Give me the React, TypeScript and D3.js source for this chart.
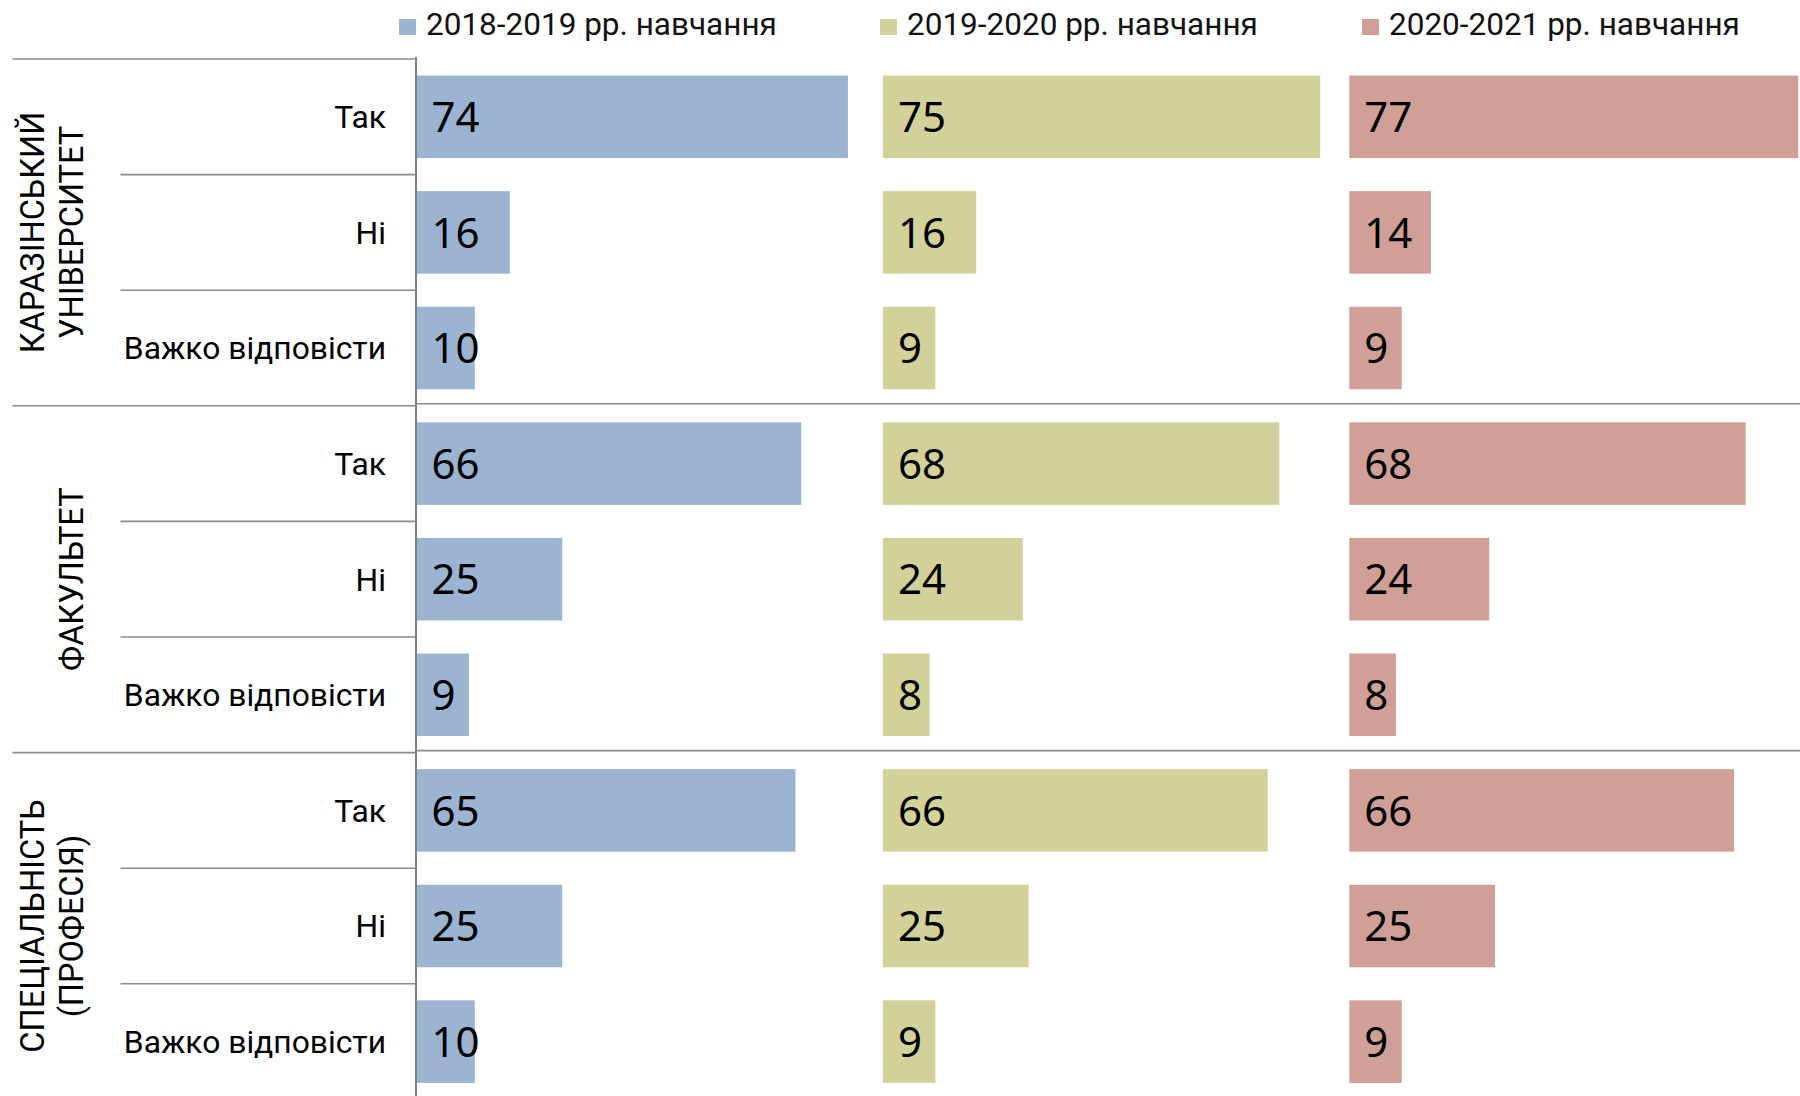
import { useEffect } from "react";
import * as d3 from "d3";

const groups = [["КАРАЗІНСЬКИЙ", "УНІВЕРСИТЕТ"], ["ФАКУЛЬТЕТ"], ["СПЕЦІАЛЬНІСТЬ", "(ПРОФЕСІЯ)"]];
const answers = ["Так", "Ні", "Важко відповісти"];
const years = ["2018-2019 рр. навчання", "2019-2020 рр. навчання", "2020-2021 рр. навчання"];
const values2018 = [74, 16, 10, 66, 25, 9, 65, 25, 10];
const values2019 = [75, 16, 9, 68, 24, 8, 66, 25, 9];
const values2020 = [77, 14, 9, 68, 24, 8, 66, 25, 9];
const series = [values2018, values2019, values2020];
const colors = ["#9ab4d2", "#d2d199", "#d0a098"];
const legendX = [399, 880, 1362];

const W = 1800;
const H = 1096;
const panelSpan = 80;
const axisX = 416;
const top = 59;
const rowH = 115.6;

export default function App() {
  useEffect(() => {
    document.body.style.margin = "0";
  }, []);

  const rows = groups.flatMap((_, g) => answers.map((_, a) => `${g}-${a}`));
  const y = d3.scaleBand<string>().domain(rows).range([top, top + rows.length * rowH]).paddingInner(0.286).paddingOuter(0.143);
  const x = d3.scaleLinear().domain([0, panelSpan * 3]).range([axisX + 0.5, axisX + 0.5 + 240 * 5.83]);
  const step = y.step();
  const rowTop = (i: number) => top + i * step;

  return (
    <svg width={W} height={H} style={{ display: "block" }}>
      {/* legend */}
      {years.map((name, i) => (
        <g key={name} transform={`translate(${legendX[i]},0)`}>
          <rect x={0} y={19} width={17} height={16} fill={colors[i]} />
          <text x={27} y={35} fontFamily="Roboto" fontSize={31.5} fill="#111">
            {name}
          </text>
        </g>
      ))}

      {/* bars */}
      {series.map((vals, s) =>
        vals.map((v, i) => (
          <g key={`${s}-${i}`}>
            <rect
              x={x(s * panelSpan)}
              y={y(rows[i])}
              width={x(s * panelSpan + v) - x(s * panelSpan)}
              height={y.bandwidth()}
              fill={colors[s]}
            />
            <text
              x={x(s * panelSpan) + 15}
              y={(y(rows[i]) as number) + y.bandwidth() / 2}
              dy="0.36em"
              fontFamily="'Noto Sans'"
              fontSize={42}
              fill="#000"
            >
              {v}
            </text>
          </g>
        ))
      )}

      {/* answer labels */}
      {rows.map((r, i) => (
        <text
          key={r}
          x={386}
          y={(y(r) as number) + y.bandwidth() / 2}
          dy="0.36em"
          textAnchor="end"
          fontFamily="Roboto"
          fontSize={31.8}
          fill="#000"
        >
          {answers[i % 3]}
        </text>
      ))}

      {/* lines between answers */}
      {rows.map((_, i) =>
        i % 3 !== 0 ? (
          <line key={`r${i}`} x1={120.5} x2={axisX} y1={rowTop(i)} y2={rowTop(i)} stroke="#8c8c8c" strokeWidth={1.6} />
        ) : null
      )}

      {/* lines between groups */}
      {groups.map((_, g) => (
        <g key={`g${g}`}>
          <line x1={12.5} x2={axisX} y1={rowTop(g * 3)} y2={rowTop(g * 3)} stroke="#8c8c8c" strokeWidth={1.6} />
          {g > 0 && (
            <line x1={axisX} x2={W} y1={rowTop(g * 3) - 2} y2={rowTop(g * 3) - 2} stroke="#8c8c8c" strokeWidth={1.6} />
          )}
        </g>
      ))}

      {/* group labels */}
      {groups.map((lines, g) => {
        const cy = rowTop(g * 3) + (step * 3) / 2;
        return (
          <text key={lines[0]} transform={`translate(0,${cy}) rotate(-90)`} textAnchor="middle" fontFamily="Roboto" fontSize={32.5} fill="#000">
            {lines.map((l, k) => (
              <tspan key={l} x={0} y={83 - (lines.length - 1 - k) * 39.5}>
                {l}
              </tspan>
            ))}
          </text>
        );
      })}

      {/* axis */}
      <line x1={axisX} x2={axisX} y1={top - 2} y2={H} stroke="#808080" strokeWidth={2} />
    </svg>
  );
}
